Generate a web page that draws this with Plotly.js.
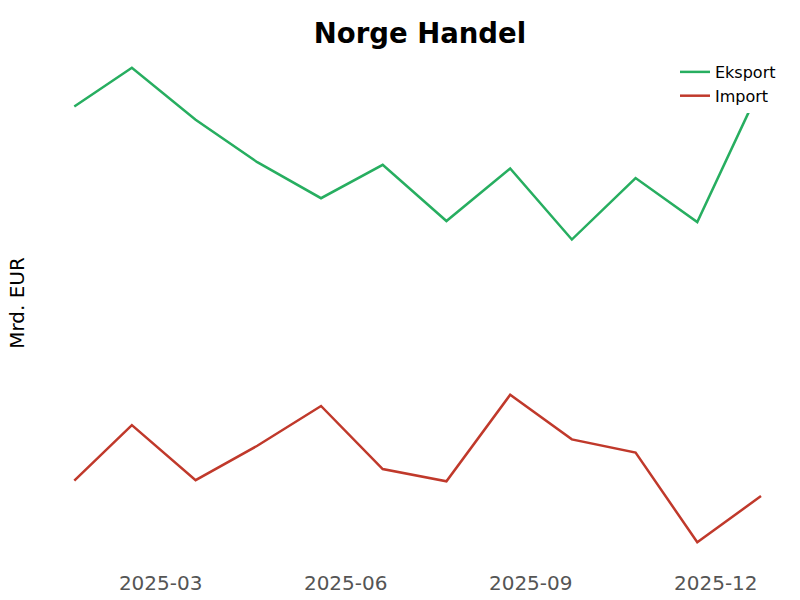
<!DOCTYPE html>
<html>
<head>
<meta charset="utf-8">
<script src="https://cdn.plot.ly/plotly-3.0.1.min.js"></script>
<style>html,body{margin:0;padding:0;background:#fff}#chart{width:800px;height:600px}</style>
</head>
<body>
<div id="chart"></div>
<script>
// Data (Mrd. EUR)
const months = ['2025-01-31','2025-02-28','2025-03-31','2025-04-30','2025-05-31','2025-06-30',
                '2025-07-31','2025-08-31','2025-09-30','2025-10-31','2025-11-30','2025-12-31'];
const eksport = [15.06, 15.79, 14.81, 14.01, 13.33, 13.96, 12.90, 13.89, 12.55, 13.71, 12.88, 15.45];
const importVals = [8.00, 9.05, 8.01, 8.66, 9.41, 8.22, 7.99, 9.62, 8.78, 8.53, 6.84, 7.71];
const tickVals = ['2025-03-14','2025-06-12','2025-09-10','2025-12-09'];
const tickLabels = ['2025-03','2025-06','2025-09','2025-12'];
const seriesNames = ['Eksport','Import'];

const font = 'DejaVu Sans, Verdana, sans-serif';

const traces = [
  {x: months, y: eksport, name: seriesNames[0], type: 'scatter', mode: 'lines',
   line: {color: '#27ae60', width: 2.5}},
  {x: months, y: importVals, name: seriesNames[1], type: 'scatter', mode: 'lines',
   line: {color: '#c0392b', width: 2.5}}
];

const layout = {
  width: 800, height: 600,
  paper_bgcolor: '#ffffff', plot_bgcolor: '#ffffff',
  font: {family: font, color: '#444'},
  margin: {l: 31, r: 20, t: 40, b: 34},
  title: {text: '<b>Norge Handel</b>', font: {family: font, size: 27.5, color: '#000'},
          x: 0.525, xanchor: 'center', xref: 'container', y: 0.945, yanchor: 'middle', yref: 'container'},
  xaxis: {type: 'date', range: ['2025-01-09 22:30', '2026-01-09 05:45'],
          tickmode: 'array', tickvals: tickVals, ticktext: tickLabels,
          showgrid: false, zeroline: false, showline: false, ticks: '', ticklabelstandoff: 3,
          tickfont: {family: font, size: 20, color: '#555'}},
  yaxis: {range: [6.391, 16.315], showgrid: false, zeroline: false, showline: false,
          showticklabels: false, ticks: '',
          title: {text: 'Mrd. EUR', font: {family: font, size: 20, color: '#000'}, standoff: 0}},
  legend: {x: 0.8598, xanchor: 'left', xref: 'paper', y: 0.9715, yanchor: 'top', yref: 'paper',
           bgcolor: '#ffffff', font: {family: font, size: 16, color: '#000'}},
  showlegend: true
};

Plotly.newPlot('chart', traces, layout, {displayModeBar: false, staticPlot: true});
</script>
</body>
</html>
